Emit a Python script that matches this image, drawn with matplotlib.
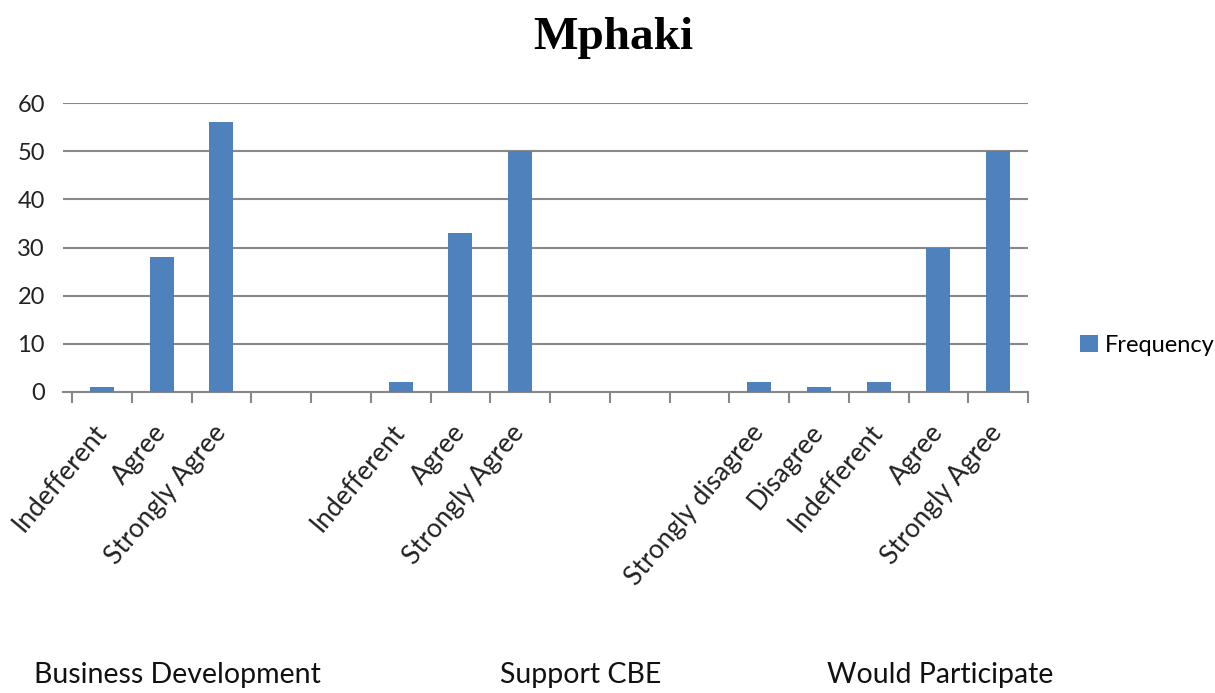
import matplotlib.pyplot as plt
import numpy as np

# --- data ---
categories = ['Indefferent', 'Agree', 'Strongly Agree', '', '',
              'Indefferent', 'Agree', 'Strongly Agree', '', '', '',
              'Strongly disagree', 'Disagree', 'Indefferent', 'Agree', 'Strongly Agree']
frequency = [1, 28, 56, 0, 0, 2, 33, 50, 0, 0, 0, 2, 1, 2, 30, 50]
group_names = ['Business Development', 'Support CBE', 'Would Participate']
group_x = [0.146, 0.478, 0.774]
y_ticks = [0, 10, 20, 30, 40, 50, 60]

FONT = ['Lato', 'DejaVu Sans']
BAR_COLOR = '#4F81BD'
GRID_COLOR = '#888888'

plt.rcParams['font.family'] = FONT

fig = plt.figure(figsize=(12.15, 6.93), dpi=100)
ax = fig.add_axes([63 / 1215, 1 - 392 / 693, (1028 - 63) / 1215, (392 - 103) / 693])

x = np.arange(len(categories))
ax.bar(x, frequency, width=0.4, color=BAR_COLOR, label='Frequency', zorder=3)

ax.set_xlim(-0.5 - 9 / 59.75, len(categories) - 0.5)
ax.set_ylim(0, 60)

# y axis
ax.set_yticks(y_ticks)
ax.tick_params(axis='y', length=0, pad=13, labelsize=17, colors='#222222')
ax.grid(axis='y', color=GRID_COLOR, linewidth=1.5, zorder=0)

# x axis: labels at slot centers, tick marks at slot boundaries
ax.set_xticks(x)
ax.set_xticklabels(categories, rotation=50, ha='right', va='center',
                   rotation_mode='anchor', fontsize=19)
ax.tick_params(axis='x', which='major', length=0, pad=26, colors='#222222')
ax.set_xticks(np.arange(-0.5, len(categories), 1), minor=True)
ax.tick_params(axis='x', which='minor', length=8, width=1.5, color=GRID_COLOR, direction='out')

for side in ['top', 'right', 'left']:
    ax.spines[side].set_visible(False)
ax.spines['bottom'].set_color(GRID_COLOR)
ax.spines['bottom'].set_linewidth(1.5)

# title
fig.text(0.505, 0.945, 'Mphaki', ha='center', va='center', fontsize=34,
         fontweight='bold', family='Liberation Serif')

# group labels under the axis
for name, gx in zip(group_names, group_x):
    fig.text(gx, 0.026, name, ha='center', va='center', fontsize=20.5, color='#111111')

# legend
fig.legend(loc='center left', bbox_to_anchor=(1068 / 1215, 1 - 345 / 693), frameon=False,
           fontsize=17, handlelength=0.75, handleheight=0.75, handletextpad=0.3, borderpad=0)

fig.savefig('out.png', dpi=100)
